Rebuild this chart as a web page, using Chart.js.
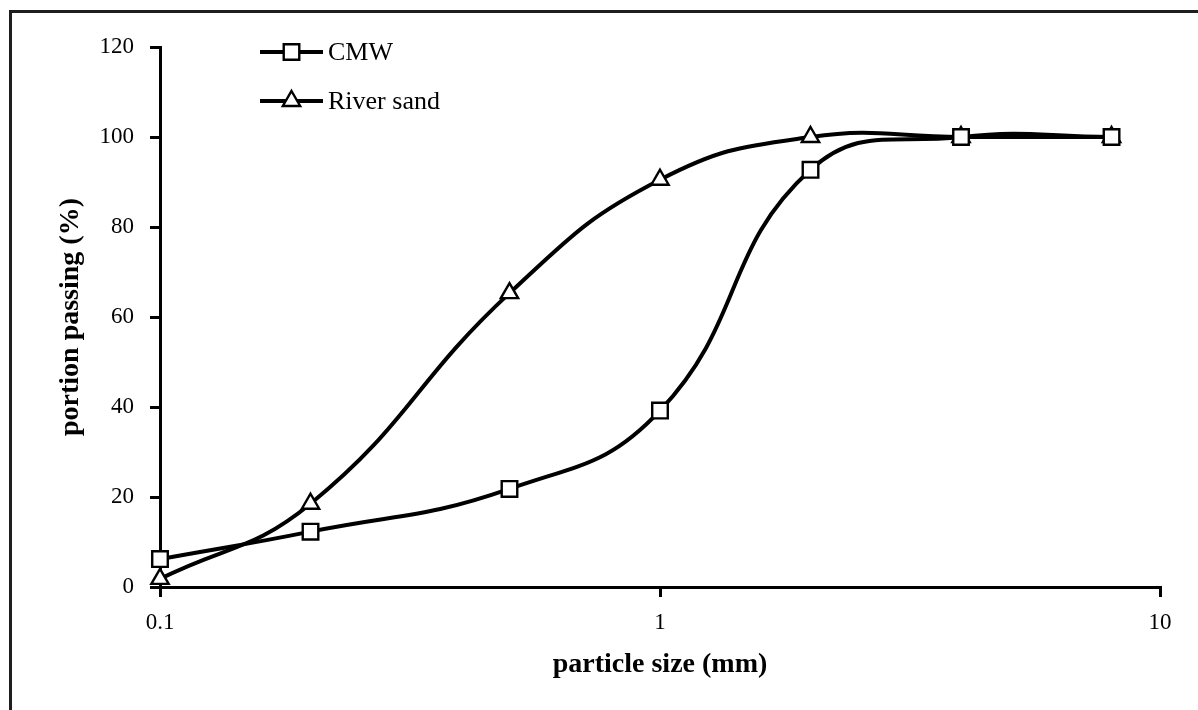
<!DOCTYPE html>
<html>
<head>
<meta charset="utf-8">
<script src="https://cdn.jsdelivr.net/npm/chart.js@4.4.0/dist/chart.umd.min.js"></script>
<style>
  html, body { margin: 0; padding: 0; background: #fff; }
  #wrap { width: 1198px; height: 710px; }
</style>
</head>
<body>
<div id="wrap"><canvas id="sieve"></canvas></div>
<script>
// particle size (mm) and % passing
const particleSize = [0.1, 0.2, 0.5, 1, 2, 4, 8];
const cmw = [6.2, 12.3, 21.8, 39.2, 92.7, 100, 100];
const riverSand = [1.8, 18.5, 65.3, 90.5, 100, 100, 100];
const xTicks = [0.1, 1, 10];
const yTicks = [0, 20, 40, 60, 80, 100, 120];

const serif = "'Liberation Serif', 'Times New Roman', serif";

function pts(ys) {
  return particleSize.map((x, i) => ({ x: x, y: ys[i] }));
}

// frame round the figure (top and left edge only, like the scan)
const framePlugin = {
  id: "frame",
  beforeDraw(chart) {
    const ctx = chart.ctx;
    ctx.save();
    ctx.strokeStyle = "#1e1e1e";
    ctx.lineWidth = 3;
    ctx.beginPath();
    ctx.moveTo(10.5, 710);
    ctx.lineTo(10.5, 11.5);
    ctx.lineTo(1198, 11.5);
    ctx.stroke();
    ctx.restore();
  },
};

// legend: short line with the marker on it, text to the right
const legendPlugin = {
  id: "lineLegend",
  afterDraw(chart) {
    const ctx = chart.ctx;
    const x0 = 260, x1 = 323, y0 = 52, gap = 49;
    ctx.save();
    chart.data.datasets.forEach((ds, i) => {
      const y = y0 + i * gap;
      ctx.strokeStyle = ds.borderColor;
      ctx.lineWidth = ds.borderWidth;
      ctx.beginPath();
      ctx.moveTo(x0, y);
      ctx.lineTo(x1, y);
      ctx.stroke();
      ctx.fillStyle = "#fff";
      ctx.strokeStyle = "#000";
      ctx.lineWidth = ds.pointBorderWidth;
      Chart.helpers.drawPoint(ctx, {
        pointStyle: ds.pointStyle,
        radius: ds.pointRadius,
        borderWidth: ds.pointBorderWidth,
        rotation: 0,
      }, (x0 + x1) / 2, y);
      ctx.fillStyle = "#000";
      ctx.font = "26px " + serif;
      ctx.textBaseline = "middle";
      ctx.textAlign = "left";
      ctx.fillText(ds.label, x1 + 5, y + 1);
    });
    ctx.restore();
  },
};

new Chart(document.getElementById("sieve"), {
  type: "line",
  data: {
    datasets: [
      {
        label: "CMW",
        data: pts(cmw),
        borderColor: "#000",
        borderWidth: 4,
        pointStyle: "rect",
        pointRadius: 11,
        pointBorderWidth: 2.4,
        pointBackgroundColor: "#fff",
        pointBorderColor: "#000",
        tension: 0.45,
        clip: false,
      },
      {
        label: "River sand",
        data: pts(riverSand),
        borderColor: "#000",
        borderWidth: 4,
        pointStyle: "triangle",
        pointRadius: 10,
        pointBorderWidth: 2.4,
        pointBackgroundColor: "#fff",
        pointBorderColor: "#000",
        tension: 0.45,
        clip: false,
      },
    ],
  },
  options: {
    responsive: true,
    maintainAspectRatio: false,
    animation: false,
    layout: { padding: { left: 40, top: 47, right: 38, bottom: 20 } },
    plugins: {
      legend: { display: false },
      tooltip: { enabled: false },
    },
    scales: {
      x: {
        type: "logarithmic",
        min: 0.1,
        max: 10,
        afterBuildTicks: (scale) => {
          scale.ticks = xTicks.map((v) => ({ value: v }));
        },
        afterFit: (scale) => { scale.height = 103; },
        border: { color: "#000", width: 3 },
        grid: { drawOnChartArea: false, color: "#000", lineWidth: 3, tickLength: 10 },
        ticks: {
          color: "#000",
          padding: 12,
          maxRotation: 0,
          font: { family: serif, size: 23 },
          callback: (v) => String(v),
        },
        title: {
          display: true,
          text: "particle size (mm)",
          color: "#000",
          padding: { top: 0, bottom: 8 },
          font: { family: serif, size: 28, weight: "bold" },
        },
      },
      y: {
        min: 0,
        max: 120,
        afterBuildTicks: (scale) => {
          scale.ticks = yTicks.map((v) => ({ value: v }));
        },
        afterFit: (scale) => { scale.width = 120; },
        border: { color: "#000", width: 3 },
        grid: { drawOnChartArea: false, color: "#000", lineWidth: 3, tickLength: 10 },
        ticks: {
          color: "#000",
          padding: 16,
          font: { family: serif, size: 23 },
        },
        title: {
          display: true,
          text: "portion passing (%)",
          color: "#000",
          padding: { top: 14, bottom: 0 },
          font: { family: serif, size: 28, weight: "bold" },
        },
      },
    },
  },
  plugins: [framePlugin, legendPlugin],
});
</script>
</body>
</html>
